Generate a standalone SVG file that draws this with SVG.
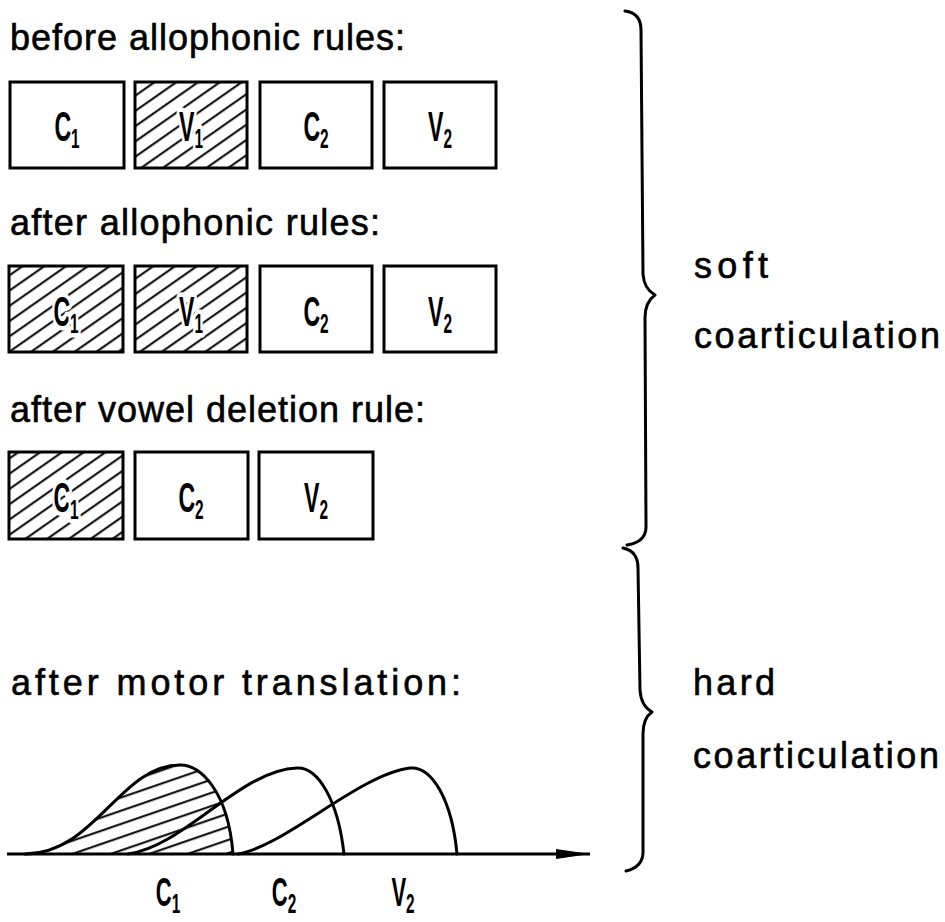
<svg xmlns="http://www.w3.org/2000/svg" width="945" height="922" viewBox="0 0 945 922">
<style>
.h{font-family:"Liberation Sans",Arial,sans-serif;font-size:36px;fill:#000;stroke:#000;stroke-width:0.6px}
.lab{font-family:"Liberation Sans",Arial,sans-serif;font-size:42px;font-weight:bold;fill:#000}
.sub{font-size:28px}
.halo{stroke:#fff;stroke-width:9px;paint-order:stroke;stroke-linejoin:round}
.box{fill:none;stroke:#000;stroke-width:3}
.hat{fill:url(#hb);stroke:none}
.ln{fill:none;stroke:#000;stroke-width:3;stroke-linecap:round;stroke-linejoin:round}
</style>
<defs>
<pattern id="hb" patternUnits="userSpaceOnUse" width="20" height="12.5" patternTransform="rotate(-35)">
<line x1="0" y1="6" x2="20" y2="6" stroke="#000" stroke-width="2"/>
</pattern>
<pattern id="hc" patternUnits="userSpaceOnUse" width="20" height="12.5" patternTransform="rotate(-19)">
<line x1="0" y1="6" x2="20" y2="6" stroke="#000" stroke-width="2"/>
</pattern>
<clipPath id="c1clip"><path d="M25,854 C95,854 120,765 180,765 C200,765 228,790 233,854 Z"/></clipPath>
<marker id="arr" markerUnits="userSpaceOnUse" markerWidth="36" markerHeight="12" refX="34" refY="6" orient="auto">
<path d="M0,1 L34,6 L0,11 Z" fill="#000"/>
</marker>
</defs>
<rect width="945" height="922" fill="#fff"/>

<!-- headings -->
<text class="h" x="10" y="50" textLength="395" lengthAdjust="spacing">before allophonic rules:</text>
<text class="h" x="10" y="235" textLength="370" lengthAdjust="spacing">after allophonic rules:</text>
<text class="h" x="10" y="422" textLength="415" lengthAdjust="spacing">after vowel deletion rule:</text>
<text class="h" x="11" y="695" textLength="450" lengthAdjust="spacing">after motor translation:</text>

<!-- row 1 -->
<g id="r1c1"><rect class="box" x="10" y="82" width="114" height="86"/>
<g transform="translate(67,141) scale(0.55,1)"><text class="lab" text-anchor="middle">C<tspan class="sub" dy="7">1</tspan></text></g></g>
<g id="r1v1"><rect class="hat" x="135" y="82" width="112" height="86"/><rect class="box" x="135" y="82" width="112" height="86"/>
<g transform="translate(191,141) scale(0.55,1)"><text class="lab halo" text-anchor="middle">V<tspan class="sub" dy="7">1</tspan></text></g></g>
<g id="r1c2"><rect class="box" x="260" y="82" width="112" height="86"/>
<g transform="translate(316,141) scale(0.55,1)"><text class="lab" text-anchor="middle">C<tspan class="sub" dy="7">2</tspan></text></g></g>
<g id="r1v2"><rect class="box" x="384" y="82" width="112" height="86"/>
<g transform="translate(440,141) scale(0.55,1)"><text class="lab" text-anchor="middle">V<tspan class="sub" dy="7">2</tspan></text></g></g>

<!-- row 2 -->
<g id="r2c1"><rect class="hat" x="9" y="266" width="114" height="86"/><rect class="box" x="9" y="266" width="114" height="86"/>
<g transform="translate(66,326) scale(0.55,1)"><text class="lab halo" text-anchor="middle">C<tspan class="sub" dy="7">1</tspan></text></g></g>
<g id="r2v1"><rect class="hat" x="135" y="266" width="112" height="86"/><rect class="box" x="135" y="266" width="112" height="86"/>
<g transform="translate(191,326) scale(0.55,1)"><text class="lab halo" text-anchor="middle">V<tspan class="sub" dy="7">1</tspan></text></g></g>
<g id="r2c2"><rect class="box" x="260" y="266" width="112" height="86"/>
<g transform="translate(316,326) scale(0.55,1)"><text class="lab" text-anchor="middle">C<tspan class="sub" dy="7">2</tspan></text></g></g>
<g id="r2v2"><rect class="box" x="384" y="266" width="112" height="86"/>
<g transform="translate(440,326) scale(0.55,1)"><text class="lab" text-anchor="middle">V<tspan class="sub" dy="7">2</tspan></text></g></g>

<!-- row 3 -->
<g id="r3c1"><rect class="hat" x="9" y="452" width="114" height="87"/><rect class="box" x="9" y="452" width="114" height="87"/>
<g transform="translate(66,512) scale(0.55,1)"><text class="lab halo" text-anchor="middle">C<tspan class="sub" dy="7">1</tspan></text></g></g>
<g id="r3c2"><rect class="box" x="135" y="452" width="113" height="87"/>
<g transform="translate(191,512) scale(0.55,1)"><text class="lab" text-anchor="middle">C<tspan class="sub" dy="7">2</tspan></text></g></g>
<g id="r3v2"><rect class="box" x="259" y="452" width="114" height="87"/>
<g transform="translate(316,512) scale(0.55,1)"><text class="lab" text-anchor="middle">V<tspan class="sub" dy="7">2</tspan></text></g></g>

<!-- motor curves -->
<g id="curves">
<rect x="0" y="740" width="260" height="120" fill="url(#hc)" clip-path="url(#c1clip)"/>
<path class="ln" d="M25,854 C95,854 120,765 180,765 C200,765 228,790 233,854"/>
<path class="ln" d="M128,854 C185,846 240,770 297,768 C318,767 338,800 344,854"/>
<path class="ln" d="M238,854 C285,846 360,774 410,768 C432,766 452,800 457,854"/>
</g>

<g id="connectors">
<line x1="7" y1="854" x2="590" y2="854" stroke="#000" stroke-width="3" marker-end="url(#arr)"/>
<path class="ln" d="M625,11 Q641,13 641,30 L643,274 Q644,289 655,295 Q645,302 645,318 L646,527 Q646,542 627,545"/>
<path class="ln" d="M623,548 Q638,551 638,568 L640,690 Q641,706 652,712 Q643,718 643,734 L643,852 Q643,867 626,871"/>
</g>

<!-- axis labels -->
<g id="axlab1" transform="translate(168,906) scale(0.55,1)"><text class="lab" style="font-size:40px" text-anchor="middle">C<tspan class="sub" dy="7">1</tspan></text></g>
<g id="axlab2" transform="translate(284,906) scale(0.55,1)"><text class="lab" style="font-size:40px" text-anchor="middle">C<tspan class="sub" dy="7">2</tspan></text></g>
<g id="axlab3" transform="translate(403,906) scale(0.55,1)"><text class="lab" style="font-size:40px" text-anchor="middle">V<tspan class="sub" dy="7">2</tspan></text></g>

<!-- right labels -->
<text class="h" x="694" y="278" textLength="74" lengthAdjust="spacing">soft</text>
<text class="h" x="694" y="348" textLength="246" lengthAdjust="spacing">coarticulation</text>
<text class="h" x="693" y="695" textLength="82" lengthAdjust="spacing">hard</text>
<text class="h" x="693" y="768" textLength="246" lengthAdjust="spacing">coarticulation</text>
</svg>
